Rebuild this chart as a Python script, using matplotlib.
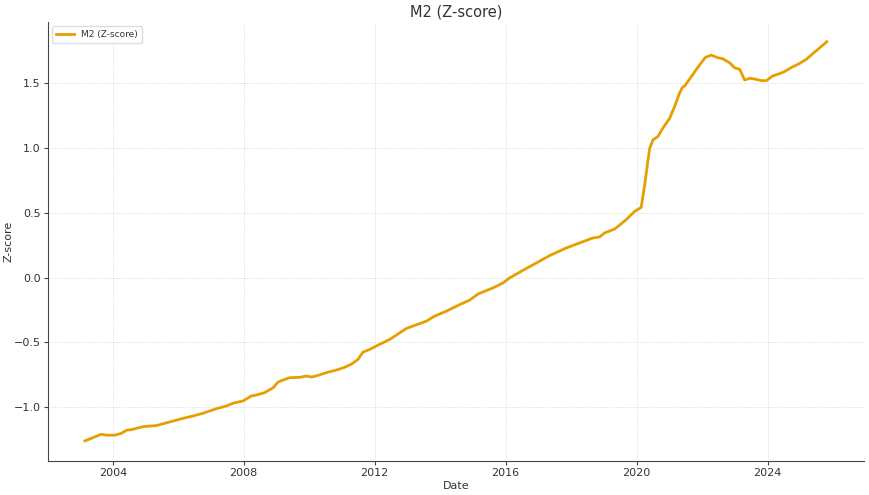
import matplotlib
matplotlib.use("Agg")
import matplotlib.pyplot as plt
from matplotlib.ticker import MultipleLocator

# decimal years
years = [
    2003.15, 2003.65, 2003.80, 2004.06, 2004.27, 2004.42, 2004.57, 2004.93,
    2005.33, 2005.74, 2006.15, 2006.45, 2006.76, 2007.17, 2007.47, 2007.67,
    2007.98, 2008.23, 2008.39, 2008.64, 2008.90, 2009.05, 2009.20, 2009.40,
    2009.71, 2009.91, 2010.07, 2010.27, 2010.52, 2010.83, 2011.08, 2011.29,
    2011.49, 2011.64, 2011.85, 2012.10, 2012.46, 2012.97, 2013.58, 2013.83,
    2014.19, 2014.60, 2014.90, 2015.16, 2015.61, 2015.92, 2016.12, 2016.53,
    2016.94, 2017.34, 2017.85, 2018.26, 2018.66, 2018.87, 2019.02, 2019.33,
    2019.68, 2019.94, 2020.14, 2020.24, 2020.35, 2020.40, 2020.50, 2020.65,
    2020.80, 2021.01, 2021.16, 2021.31, 2021.40, 2021.47, 2021.67, 2021.92,
    2022.10, 2022.28, 2022.48, 2022.63, 2022.84, 2022.99, 2023.15, 2023.30,
    2023.45, 2023.60, 2023.81, 2023.96, 2024.16, 2024.47, 2024.72, 2024.98,
    2025.18, 2025.39, 2025.81,
]
m2_z = [
    -1.259, -1.208, -1.215, -1.215, -1.200, -1.177, -1.172, -1.149,
    -1.141, -1.113, -1.085, -1.067, -1.046, -1.010, -0.990, -0.969,
    -0.951, -0.913, -0.905, -0.887, -0.849, -0.805, -0.790, -0.772,
    -0.769, -0.759, -0.767, -0.754, -0.733, -0.713, -0.692, -0.667,
    -0.631, -0.575, -0.554, -0.521, -0.477, -0.392, -0.336, -0.297,
    -0.259, -0.208, -0.174, -0.126, -0.080, -0.041, -0.003, 0.056,
    0.113, 0.169, 0.228, 0.267, 0.305, 0.313, 0.344, 0.374,
    0.446, 0.510, 0.541, 0.703, 0.908, 0.997, 1.062, 1.087,
    1.151, 1.228, 1.318, 1.421, 1.467, 1.477, 1.549, 1.638,
    1.697, 1.715, 1.695, 1.687, 1.656, 1.618, 1.605, 1.523,
    1.536, 1.531, 1.518, 1.518, 1.554, 1.582, 1.618, 1.651,
    1.682, 1.728, 1.818,
]

text_col = "#333333"
plt.rcParams.update({
    "font.family": "DejaVu Sans",
    "text.color": text_col,
    "axes.labelcolor": text_col,
    "xtick.color": text_col,
    "ytick.color": text_col,
})

fig = plt.figure(figsize=(8.7, 4.95), dpi=100)
ax = fig.add_axes([0.055, 0.069, 0.938, 0.887])

ax.plot(years, m2_z, color="#E69F00", lw=2, label="M2 (Z-score)")

ax.xaxis.set_major_locator(MultipleLocator(4))
ax.xaxis.set_major_formatter(plt.FuncFormatter(lambda v, _: f"{int(v)}"))
ax.yaxis.set_major_locator(MultipleLocator(0.5))

ax.grid(True, ls=":", lw=0.6, color="#d0d0d0")
for s in ("top", "right"):
    ax.spines[s].set_visible(False)
for s in ("left", "bottom"):
    ax.spines[s].set_color("#444444")
ax.tick_params(labelsize=8, length=3, width=0.8, color="#444444", pad=2)

ax.set_title("M2 (Z-score)", fontsize=10.5, pad=4)
ax.set_xlabel("Date", fontsize=8, labelpad=2)
ax.set_ylabel("Z-score", fontsize=8, labelpad=1)
ax.yaxis.set_label_coords(-0.042, 0.5)
ax.legend(loc="upper left", fontsize=6.5, frameon=True, framealpha=1,
          edgecolor="#dddddd")

fig.savefig("out.png", dpi=100)
